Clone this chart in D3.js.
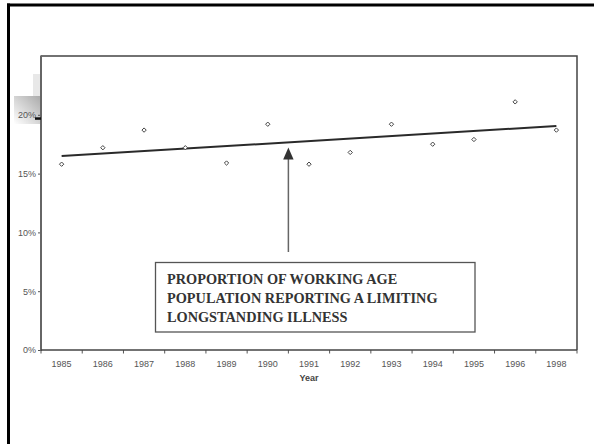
<!DOCTYPE html>
<html>
<head>
<meta charset="utf-8">
<script src="https://cdn.jsdelivr.net/npm/d3@7"></script>
<style>
  html, body { margin: 0; padding: 0; background: #fff; }
  svg { display: block; }
</style>
</head>
<body>
<svg id="chart" width="594" height="444"></svg>
<script>
// ---- data ----
const years = ["1985","1986","1987","1988","1989","1990","1991","1992","1993","1994","1995","1996","1998"];
const proportion = [15.8, 17.2, 18.7, 17.2, 15.9, 19.2, 15.8, 16.8, 19.2, 17.5, 17.9, 21.1, 18.7];
const yTicks = [0, 5, 10, 15, 20];
const yMax = 25;
const annotationLines = ["PROPORTION OF WORKING AGE", "POPULATION REPORTING A LIMITING", "LONGSTANDING ILLNESS"];
const xTitle = "Year";
const arrowYear = "1990";
const arrowOffset = 0.5; // fraction of band to the right of centre

// ---- layout ----
const svg = d3.select("#chart");
const L = 41, R = 577, T = 56, B = 350;

const x = d3.scaleBand().domain(years).range([L, R]).padding(0);
const y = d3.scaleLinear().domain([0, yMax]).range([B, T]);
const cx = d => x(d) + x.bandwidth() / 2;

const defs = svg.append("defs");
const grad = defs.append("linearGradient").attr("id", "g1")
  .attr("x1", "1").attr("y1", "0").attr("x2", "0").attr("y2", "1");
grad.append("stop").attr("offset", "0").attr("stop-color", "#a9a9a9");
grad.append("stop").attr("offset", "1").attr("stop-color", "#ffffff");

// outer slide frame (top & left)
svg.append("line").attr("x1", 7).attr("x2", 594).attr("y1", 5).attr("y2", 5)
  .attr("stroke", "#000").attr("stroke-width", 3);
svg.append("line").attr("x1", 8.5).attr("x2", 8.5).attr("y1", 3.5).attr("y2", 444)
  .attr("stroke", "#000").attr("stroke-width", 3);

// artefacts near the 20% label
svg.append("rect").attr("x", 33).attr("y", 74).attr("width", 8).attr("height", 22).attr("fill", "#e8e8e8");
svg.append("rect").attr("x", 14).attr("y", 96).attr("width", 27).attr("height", 28).attr("fill", "url(#g1)");

// plot frame top & right
svg.append("path").attr("d", `M${L},${T}H${R}V${B}`)
  .attr("fill", "none").attr("stroke", "#444").attr("stroke-width", 1.5);

// y axis
const yAxis = svg.append("g").attr("transform", `translate(${L},0)`)
  .call(d3.axisLeft(y).tickValues(yTicks).tickFormat(d => d + "%").tickSize(3).tickPadding(2));
yAxis.select(".domain").remove();
yAxis.selectAll(".tick line").attr("stroke", "#555");
yAxis.selectAll("text").attr("font-family", "Liberation Sans, Arial, sans-serif")
  .attr("font-size", 9).attr("fill", "#555");
svg.append("line").attr("x1", L).attr("x2", L).attr("y1", T - 0.5).attr("y2", B + 1)
  .attr("stroke", "#666").attr("stroke-width", 2);
svg.append("rect").attr("x", 35).attr("y", y(20) + 2.5).attr("width", 6).attr("height", 2.5).attr("fill", "#111");

// x axis
const xAxis = svg.append("g").attr("transform", `translate(0,${B})`)
  .call(d3.axisBottom(x).tickSize(0).tickPadding(11));
xAxis.select(".domain").remove();
xAxis.selectAll("text").attr("font-family", "Liberation Sans, Arial, sans-serif")
  .attr("font-size", 9).attr("fill", "#555");
const bounds = years.map(d => x(d)).concat([x(years[years.length - 1]) + x.bandwidth()]);
svg.append("g").selectAll("line").data(bounds).join("line")
  .attr("x1", d => d).attr("x2", d => d).attr("y1", B).attr("y2", B + 3.5)
  .attr("stroke", "#555").attr("stroke-width", 1);
svg.append("line").attr("x1", L).attr("x2", R).attr("y1", B).attr("y2", B)
  .attr("stroke", "#444").attr("stroke-width", 1.5);

svg.append("text").attr("x", (L + R) / 2).attr("y", 381).attr("text-anchor", "middle")
  .attr("font-family", "Liberation Sans, Arial, sans-serif").attr("font-size", 9)
  .attr("font-weight", "bold").attr("fill", "#444").text(xTitle);

// linear trend (least squares on category index)
const n = proportion.length;
const idx = d3.range(n);
const mx = d3.mean(idx), my = d3.mean(proportion);
const slope = d3.sum(idx, i => (i - mx) * (proportion[i] - my)) / d3.sum(idx, i => (i - mx) ** 2);
const icpt = my - slope * mx;
svg.append("line")
  .attr("x1", cx(years[0])).attr("y1", y(icpt))
  .attr("x2", cx(years[n - 1])).attr("y2", y(icpt + slope * (n - 1)))
  .attr("stroke", "#2a2a2a").attr("stroke-width", 2);

// points
svg.append("g").selectAll("path").data(years).join("path")
  .attr("transform", (d, i) => `translate(${cx(d)},${y(proportion[i])})`)
  .attr("d", d3.symbol().type(d3.symbolDiamond2).size(12))
  .attr("fill", "#fff").attr("stroke", "#444").attr("stroke-width", 1);

// arrow
const ax = cx(arrowYear) + x.bandwidth() * arrowOffset;
const tipY = 147.5;
svg.append("line").attr("x1", ax).attr("x2", ax).attr("y1", tipY + 10).attr("y2", 252)
  .attr("stroke", "#666").attr("stroke-width", 1.5);
svg.append("path").attr("d", `M${ax},${tipY}L${ax + 5.2},${tipY + 12}L${ax - 5.2},${tipY + 12}Z`)
  .attr("fill", "#333");

// annotation box
svg.append("rect").attr("x", 155.5).attr("y", 262.5).attr("width", 319.5).attr("height", 69.5)
  .attr("fill", "#fff").attr("stroke", "#555").attr("stroke-width", 1.3);
svg.append("g").selectAll("text").data(annotationLines).join("text")
  .attr("x", 167).attr("y", (d, i) => 283.5 + i * 19)
  .attr("font-family", "Liberation Serif, Times New Roman, serif")
  .attr("font-weight", "bold").attr("font-size", 14.3).attr("fill", "#333")
  .text(d => d);
</script>
</body>
</html>
